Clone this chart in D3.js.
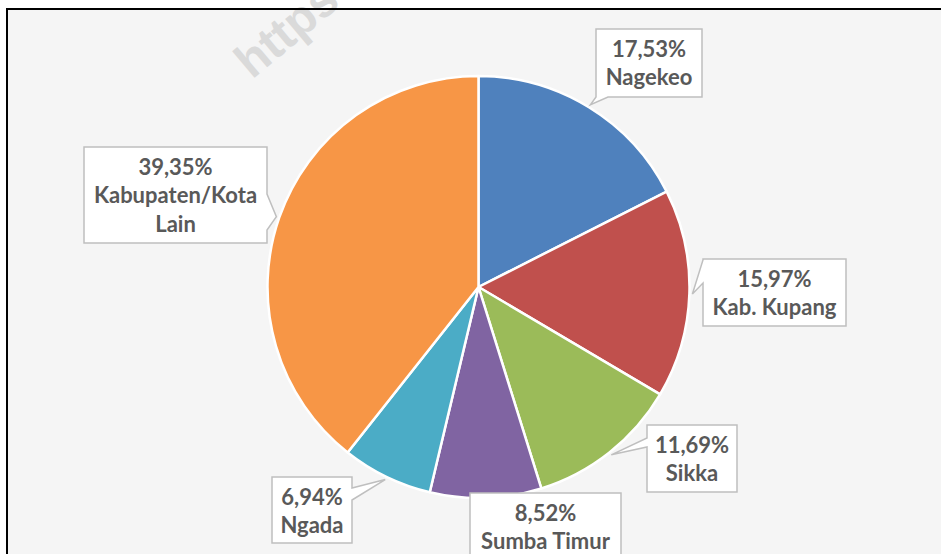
<!DOCTYPE html>
<html>
<head>
<meta charset="utf-8">
<script src="https://cdn.jsdelivr.net/npm/d3@7"></script>
<style>
  html, body { margin: 0; padding: 0; background: #ffffff; }
  svg { display: block; }
  .label-text { font-family: Lato, "Open Sans", sans-serif; font-weight: 700; font-size: 22px; fill: #595959; }
</style>
</head>
<body>
<div id="chart"></div>
<script>
// podaci
const categories = ["Nagekeo", "Kab. Kupang", "Sikka", "Sumba Timur", "Ngada", "Kabupaten/Kota Lain"];
const shares = [17.53, 15.97, 11.69, 8.52, 6.94, 39.35];
const colors = ["#4f81bd", "#c0504d", "#9bbb59", "#8064a2", "#4bacc6", "#f79646"];

// raspored oblacica (kutija + strana na kojoj je siljak)
const calloutBox = [
    { x: 596, y: 29, w: 106, h: 68, side: "bottom", base: [596, 608] },
    { x: 703, y: 259, w: 143, h: 67, side: "left", base: [260, 283] },
    { x: 647, y: 425, w: 90, h: 67, side: "left", base: [438, 447] },
    { x: 470, y: 493, w: 151, h: 67, side: null, base: null },
    { x: 272, y: 477, w: 80, h: 66, side: "right", base: [488, 500] },
    { x: 84, y: 147, w: 183, h: 96, side: "right", base: [194, 230] },
];

const width = 941;
const height = 554;
const centar = { x: 478.5, y: 287 };
const radius = 211;

const fmtLocale = d3.formatLocale({ decimal: ",", thousands: ".", grouping: [3], currency: ["", ""] });
const fmt = fmtLocale.format(".2f");

const svg = d3.select("#chart")
    .append("svg")
    .attr("width", width)
    .attr("height", height);

// pozadina i okvir
svg.append("rect")
    .attr("x", 7).attr("y", 9)
    .attr("width", width - 7).attr("height", height - 9)
    .attr("fill", "#f5f5f5");

// vodeni zig
svg.append("text")
    .attr("transform", "translate(252,80) rotate(-40)")
    .attr("font-family", "Liberation Sans, Arial, sans-serif")
    .attr("font-weight", 700)
    .attr("font-size", 48)
    .attr("fill", "#dadada")
    .text("https");

svg.append("path")
    .attr("d", `M7,${height} V9 H${width}`)
    .attr("fill", "none")
    .attr("stroke", "#000")
    .attr("stroke-width", 2);

const data = categories.map((c, i) => ({ name: c, value: shares[i], color: colors[i], box: calloutBox[i] }));

const pie = d3.pie().sort(null).value(d => d.value);
const arcs = pie(data);

const arc = d3.arc().innerRadius(0).outerRadius(radius);
const tipArc = d3.arc().innerRadius(radius + 3).outerRadius(radius + 3);

const g = svg.append("g")
    .attr("transform", `translate(${centar.x},${centar.y})`);

g.selectAll("path.slice")
    .data(arcs)
    .join("path")
    .attr("class", "slice")
    .attr("d", arc)
    .attr("fill", d => d.data.color)
    .attr("stroke", "#ffffff")
    .attr("stroke-width", 2.5)
    .attr("stroke-linejoin", "round");

// oblacic s siljkom
function calloutPath(b, tip) {
    const x0 = b.x, y0 = b.y, x1 = b.x + b.w, y1 = b.y + b.h;
    const p = [[x0, y0]];
    if (b.side === "top") p.push([b.base[0], y0], tip, [b.base[1], y0]);
    p.push([x1, y0]);
    if (b.side === "right") p.push([x1, b.base[0]], tip, [x1, b.base[1]]);
    p.push([x1, y1]);
    if (b.side === "bottom") p.push([b.base[1], y1], tip, [b.base[0], y1]);
    p.push([x0, y1]);
    if (b.side === "left") p.push([x0, b.base[1]], tip, [x0, b.base[0]]);
    return "M" + p.map(q => q.join(",")).join("L") + "Z";
}

const labels = svg.append("g");

arcs.forEach(a => {
    const b = a.data.box;
    const c = tipArc.centroid(a);
    const tip = [centar.x + c[0], centar.y + c[1]];

    labels.append("path")
        .attr("d", calloutPath(b, tip))
        .attr("fill", "#ffffff")
        .attr("stroke", "#bfbfbf")
        .attr("stroke-width", 1.5)
        .attr("stroke-linejoin", "miter");

    // prelamanje naziva prema sirini kutije
    const lines = [fmt(a.data.value) + "%"];
    const mjera = labels.append("text").attr("class", "label-text");
    let cur = "";
    a.data.name.split(" ").forEach(w => {
        const probe = cur ? cur + " " + w : w;
        mjera.text(probe);
        if (cur && mjera.node().getComputedTextLength() > b.w - 6) {
            lines.push(cur);
            cur = w;
        } else {
            cur = probe;
        }
    });
    lines.push(cur);
    mjera.remove();

    const t = labels.append("text")
        .attr("class", "label-text")
        .attr("text-anchor", "middle");
    lines.forEach((l, i) => {
        t.append("tspan")
            .attr("x", b.x + b.w / 2)
            .attr("y", b.y + 27.5 + i * 28.5)
            .text(l);
    });
});
</script>
</body>
</html>
